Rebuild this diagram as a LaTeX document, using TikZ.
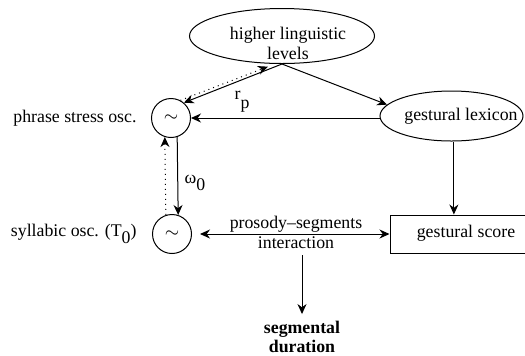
\documentclass[tikz,border=0pt]{standalone}
\usepackage{fontspec}
\setmainfont{Liberation Serif}
\usetikzlibrary{shapes.geometric,arrows.meta}
\begin{document}
\begin{tikzpicture}[x=0.5pt,y=-0.5pt,
  font=\fontsize{8.9}{10}\selectfont,
  >={Stealth[length=5pt,width=4.5pt]},
  line width=0.5pt,
  ell/.style={draw,ellipse,inner sep=0pt},
  osc/.style={draw,circle,minimum size=19.5pt,inner sep=0pt},
  plain/.style={inner sep=0pt},
  dots/.style={dotted,line width=0.5pt}]
\useasboundingbox[fill=white] (0,0) rectangle (525,355);
\clip (0,0) rectangle (525,355);
% nodes
\node[ell,minimum width=92.5pt,minimum height=27.5pt] (hll) at (282,36) {};
\node[align=center,plain] (hlltext) at (288,43) {higher linguistic\\levels};
\node[ell,minimum width=71.5pt,minimum height=25pt] (gl) at (451.5,116) {};
\node[plain] (gltext) at (461,116) {gestural lexicon};
\node[osc] (ps) at (171,118) {$\sim$};
\node[osc] (so) at (172,234) {$\sim$};
\node[anchor=east,plain] (pslbl) at ([xshift=-7pt]ps.west) {phrase stress osc.};
\node[anchor=east,plain] (solbl) at ([xshift=-7.5pt]so.west) {syllabic osc. (T\raisebox{-0.8ex}{0})};
\node[draw,minimum width=76pt,minimum height=19pt,inner sep=0pt] (gs) at (466,234) {};
\node[plain] (gstext) at (466,233) {gestural score};
\node[align=center] (pl) at (296,232) {prosody–segments\\interaction};
\node[align=center,font=\fontsize{8.9}{9.5}\selectfont\bfseries] (sd) at (302,337) {segmental\\duration};
\node[plain] (rp) at (242,102) {r\raisebox{-1.1ex}{p}};
\node[plain] (om) at (195,183) {ω\raisebox{-0.9ex}{0}};
% connectors
\draw[->] (hll.south) -- (ps.50);
\draw[->] (hll.south) -- (gl.170);
\draw[->,dots] (ps.62) -- ([yshift=-1.5pt]hll.243);
\draw[->] (gl.west |- ps.east) -- (ps.east);
\draw[->] ([xshift=1.2pt]gl.south) -- ([xshift=1.2pt]gl.south |- gs.north);
\draw[->] (ps.-72) -- (so.72);
\draw[->,dots] (so.108) -- (ps.252);
\draw[<->,shorten <=4pt] (so.east) -- (gs.west);
\draw[->] (pl.south -| sd.north) -- (sd.north);
\end{tikzpicture}
\end{document}
